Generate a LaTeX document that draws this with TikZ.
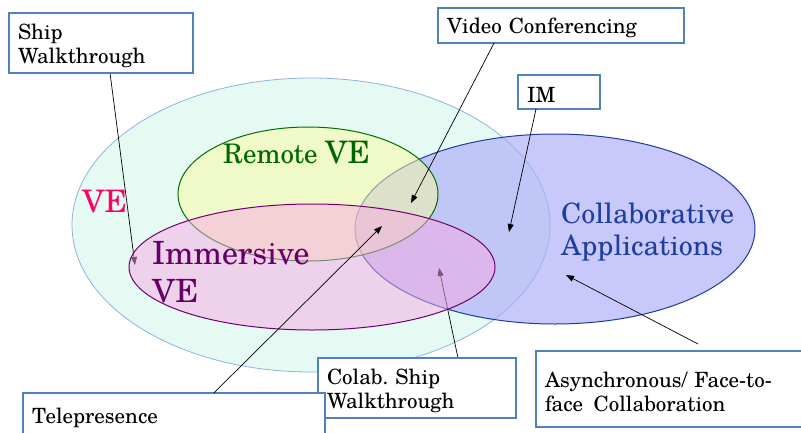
\documentclass[tikz,border=0pt]{standalone}
\usepackage{fontspec}
\setmainfont{TeX Gyre Schola}
\usetikzlibrary{arrows.meta,calc}

\definecolor{vefill}{RGB}{230,250,244}
\definecolor{veline}{RGB}{141,179,226}
\definecolor{collfill}{RGB}{174,174,247}
\definecolor{colline}{RGB}{30,60,160}
\definecolor{remfill}{RGB}{249,250,161}
\definecolor{remline}{RGB}{0,110,0}
\definecolor{immfill}{RGB}{246,170,228}
\definecolor{immline}{RGB}{112,0,112}
\definecolor{vepink}{RGB}{255,0,102}
\definecolor{remgreen}{RGB}{0,102,0}
\definecolor{immpurple}{RGB}{102,0,102}
\definecolor{collblue}{RGB}{31,63,159}
\definecolor{boxblue}{RGB}{79,129,189}

\pgfdeclarelayer{back}
\pgfdeclarelayer{under}
\pgfsetlayers{back,under,main}

\begin{document}
\begin{tikzpicture}[x=1pt,y=-1pt,
  labelbox/.style={draw=boxblue, line width=2.5pt, fill=white, anchor=north west,
    inner xsep=9pt, inner ysep=0pt, outer sep=0pt, align=left,
    font=\fontsize{21}{24}\selectfont,
    execute at begin node={\rule{0pt}{21pt}}},
  pointer/.style={-{Triangle[length=8pt,width=6pt]}, line width=0.7pt, black},
  setlabel/.style={anchor=base west, inner sep=0pt, align=left}]
\useasboundingbox (0,0) rectangle (801,432);

% callout boxes
\node[labelbox, text width=166pt, minimum height=60pt] (ship) at (9,13) {Ship\\Walkthrough};
\node[labelbox, text width=228pt, minimum height=35pt] (video) at (438,8) {Video Conferencing};
\node[labelbox, text width=64pt, minimum height=34pt] (im) at (518,75) {IM};
\node[labelbox, text width=180pt, minimum height=60pt] (colab) at (318,358) {Colab.\ Ship\\Walkthrough};
\node[labelbox, text width=284pt, minimum height=44pt] (tele) at (23,393) {Telepresence};
\node[labelbox, text width=262pt, minimum height=76pt] (async) at (536,351) {Asynchronous/ Face-to-\\face\enspace Collaboration};

% the sets
\begin{pgfonlayer}{back}
  \draw[veline, fill=vefill, line width=0.8pt] (311,225) ellipse [x radius=239pt, y radius=147pt];
  \fill[collfill, fill opacity=0.68] (555,229) ellipse [x radius=200pt, y radius=95pt];
  \draw[colline, line width=1pt] (555,229) ellipse [x radius=200pt, y radius=95pt];
  \fill[remfill, fill opacity=0.53] (308,194) ellipse [x radius=130pt, y radius=67pt];
  \draw[remline, line width=1pt] (308,194) ellipse [x radius=130pt, y radius=67pt];
\end{pgfonlayer}

% arrow ends
\coordinate (shiptip) at (135,265);
\coordinate (videotip) at (411,203);
\coordinate (imtip) at (509,232);
\coordinate (teletip) at (382,226);
\coordinate (colabtip) at (439,268);
\coordinate (asynctip) at (566,275);

% pointers that run beneath the immersive set
\begin{pgfonlayer}{under}
  \draw[pointer] ($(ship.south west)!0.549!(ship.south east)$) -- (shiptip);
  \draw[pointer] ($(colab.north west)!0.707!(colab.north east)$) -- (colabtip);
\end{pgfonlayer}

\fill[immfill, fill opacity=0.5] (312,267) ellipse [x radius=183pt, y radius=63pt];
\draw[immline, line width=1pt] (312,267) ellipse [x radius=183pt, y radius=63pt];

% set names (base anchor sits on the last line)
\node[setlabel, text=vepink, font=\fontsize{31}{36}\selectfont] (velabel) at (82,212) {VE};
\node[setlabel, text=remgreen, font=\fontsize{27}{32}\selectfont] (remlabel) at (223,163) {Remote {\fontsize{31}{36}\selectfont VE}};
\node[setlabel, text=immpurple, font=\fontsize{32}{38}\selectfont] (immlabel) at (152,302) {Immersive\\VE};
\node[setlabel, text=collblue, font=\fontsize{28}{32}\selectfont] (colllabel) at (561,255) {Collaborative\\Applications};

% remaining pointers
\draw[pointer] ($(video.south west)!0.228!(video.south east)$) -- (videotip);
\draw[pointer] ($(im.south west)!0.22!(im.south east)$) -- (imtip);
\draw[pointer] ($(tele.north west)!0.632!(tele.north east)$) -- (teletip);
\draw[pointer] ($(async.north west)+(162,-7)$) -- (asynctip);
\end{tikzpicture}
\end{document}
